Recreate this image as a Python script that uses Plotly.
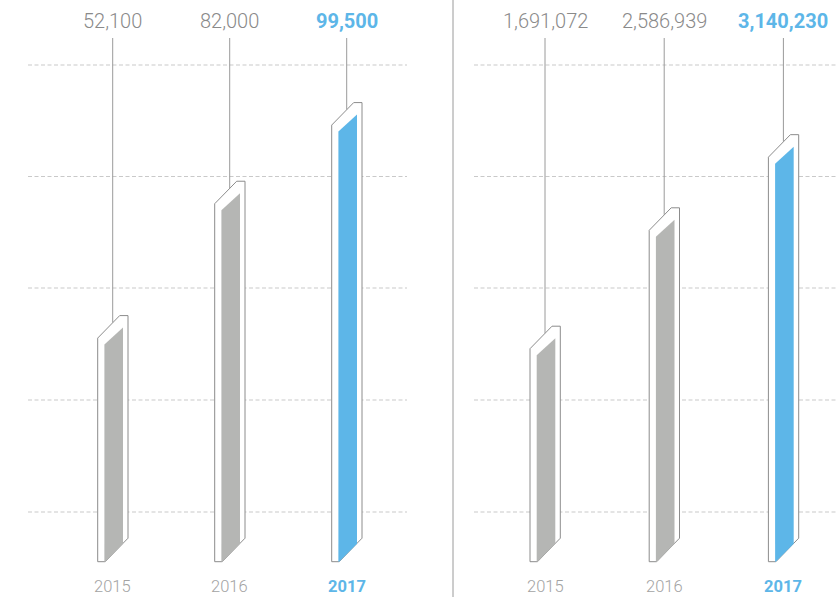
import plotly.graph_objects as go

# ---- data ----
years = ["2015", "2016", "2017"]
left_values = [52100, 82000, 99500]
right_values = [1691072, 2586939, 3140230]
left_labels = ["52,100", "82,000", "99,500"]
right_labels = ["1,691,072", "2,586,939", "3,140,230"]
highlight = [False, False, True]

# ---- style ----
W, H = 836, 597
BASE_PX = 561.7
GRAY_FILL = "#b5b6b4"
BLUE_FILL = "#5db6e8"
OUTLINE = "#8c8c8c"
LABEL_GRAY = "#8a8a8a"
YEAR_GRAY = "#a3a3a3"
BLUE_TEXT = "#5db6e8"
GRID = "#c9c9c9"
FONT = "Roboto"

panels = [
    dict(values=left_values, labels=left_labels, xa="x", ya="y",
         dom=[0, 453 / W], px0=0, px1=453, c0=112.7, step=117.0, ytop=125000,
         grid=[28, 407]),
    dict(values=right_values, labels=right_labels, xa="x2", ya="y2",
         dom=[453 / W, 1], px0=453, px1=836, c0=545.0, step=119.2, ytop=4250000,
         grid=[474, 836]),
]

fig = go.Figure()
annotations = []
shapes = []
layout_axes = {}

for pi, p in enumerate(panels):
    kx = 1.0 / p["step"]
    ky = p["ytop"] / BASE_PX
    for i, v in enumerate(p["values"]):
        G = v
        T = v + 12 * ky
        # outer bevelled frame
        ox = [i - 15 * kx, i - 15 * kx, i + 7 * kx, i + 15.3 * kx, i + 15.3 * kx, i - 7.5 * kx, i - 15 * kx]
        oy = [0, T - 22.5 * ky, T, T, 23.5 * ky, 0, 0]
        fig.add_trace(go.Scatter(x=ox, y=oy, mode="lines", fill="toself",
                                 fillcolor="white", line=dict(color=OUTLINE, width=1),
                                 xaxis=p["xa"], yaxis=p["ya"], hoverinfo="skip"))
        # inner fill
        gx = [i - 8.3 * kx, i - 8.3 * kx, i + 10.3 * kx, i + 10.3 * kx, i - 7.5 * kx, i - 8.3 * kx]
        gy = [0, G - 17 * ky, G, 18 * ky, 0, 0]
        col = BLUE_FILL if highlight[i] else GRAY_FILL
        fig.add_trace(go.Scatter(x=gx, y=gy, mode="lines", fill="toself",
                                 fillcolor=col, line=dict(color=col, width=0),
                                 xaxis=p["xa"], yaxis=p["ya"], hoverinfo="skip"))
        # leader line
        fig.add_trace(go.Scatter(x=[i, i], y=[(BASE_PX - 38) * ky, T - 7 * ky], mode="lines",
                                 line=dict(color="#9a9a9a", width=1),
                                 xaxis=p["xa"], yaxis=p["ya"], hoverinfo="skip"))
        # value label
        annotations.append(dict(
            x=i, xref=p["xa"], y=1 - 21 / H, yref="paper", text=p["labels"][i],
            showarrow=False, xanchor="center", yanchor="middle",
            font=dict(family=FONT, size=20,
                      color=BLUE_TEXT if highlight[i] else LABEL_GRAY,
                      weight=700 if highlight[i] else 300)))
        # year label
        annotations.append(dict(
            x=i, xref=p["xa"], y=1 - 586 / H, yref="paper", text=years[i],
            showarrow=False, xanchor="center", yanchor="middle",
            font=dict(family=FONT, size=16.5,
                      color=BLUE_TEXT if highlight[i] else YEAR_GRAY,
                      weight=700 if highlight[i] else 300)))

    # gridlines (decorative, dashed)
    for py in [65, 176.5, 288, 400, 512]:
        shapes.append(dict(type="line", xref="paper", yref="paper",
                           x0=p["grid"][0] / W, x1=p["grid"][1] / W,
                           y0=1 - py / H, y1=1 - py / H, layer="below",
                           line=dict(color=GRID, width=1, dash="4px,2.5px")))

    xr = [(p["px0"] - p["c0"]) / p["step"], (p["px1"] - p["c0"]) / p["step"]]
    yr = [-(H - BASE_PX) * ky, p["ytop"]]
    sfx = "" if pi == 0 else "2"
    layout_axes["xaxis" + sfx] = dict(domain=p["dom"], range=xr, visible=False, fixedrange=True,
                                      anchor="y" + sfx)
    layout_axes["yaxis" + sfx] = dict(domain=[0, 1], range=yr, visible=False, fixedrange=True,
                                      anchor="x" + sfx)

# divider
shapes.append(dict(type="line", xref="paper", yref="paper", x0=453 / W, x1=453 / W,
                   y0=0, y1=1, line=dict(color="#9a9a9a", width=1)))

fig.update_layout(
    width=W, height=H, margin=dict(l=0, r=0, t=0, b=0),
    paper_bgcolor="white", plot_bgcolor="rgba(0,0,0,0)",
    showlegend=False, annotations=annotations, shapes=shapes,
    **layout_axes,
)

fig.write_html("out.html", config={"displayModeBar": False},
               post_script="document.body.style.margin='0';document.body.style.overflow='hidden';")
